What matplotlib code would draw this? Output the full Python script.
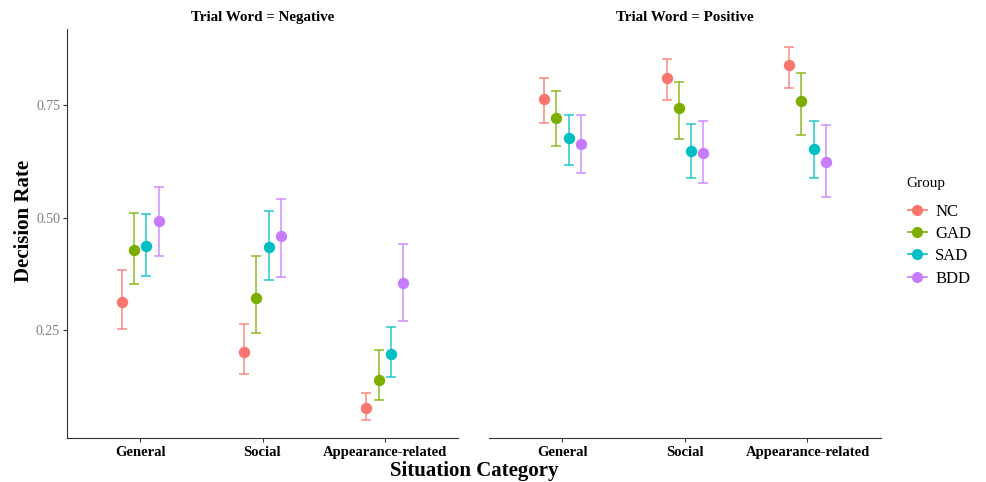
import numpy as np
import matplotlib
matplotlib.use("Agg")
from matplotlib import pyplot as plt
from matplotlib.lines import Line2D

# data
categories = ['General', 'Social', 'Appearance-related']
groups = ['NC', 'GAD', 'SAD', 'BDD']
colors = ['#F8766D', '#7CAE00', '#00BFC4', '#C77CFF']
panels = ['Negative', 'Positive']

# mean decision rate, rows = group, cols = category
neg_mean = [[0.314, 0.202, 0.077],
            [0.428, 0.321, 0.139],
            [0.437, 0.434, 0.197],
            [0.493, 0.460, 0.354]]
neg_low = [[0.252, 0.153, 0.052],
           [0.352, 0.244, 0.096],
           [0.370, 0.361, 0.146],
           [0.414, 0.369, 0.270]]
neg_high = [[0.383, 0.264, 0.111],
            [0.510, 0.416, 0.206],
            [0.509, 0.515, 0.257],
            [0.568, 0.542, 0.442]]

pos_mean = [[0.764, 0.811, 0.838],
            [0.722, 0.744, 0.760],
            [0.676, 0.649, 0.653],
            [0.663, 0.644, 0.623]]
pos_low = [[0.711, 0.761, 0.788],
           [0.659, 0.675, 0.684],
           [0.617, 0.589, 0.589],
           [0.600, 0.577, 0.545]]
pos_high = [[0.810, 0.852, 0.878],
            [0.781, 0.802, 0.822],
            [0.727, 0.709, 0.715],
            [0.729, 0.714, 0.705]]

plt.rcParams['font.family'] = ['Liberation Serif', 'DejaVu Serif']

fig = plt.figure(figsize=(9.87, 4.82), dpi=100)
ax1 = fig.add_axes([67/987, 1 - 438/482, 391/987, 409/482])
ax2 = fig.add_axes([489/987, 1 - 438/482, 392/987, 409/482], sharey=ax1)

offsets = [-0.15, -0.05, 0.05, 0.15]
x = np.arange(1, len(categories) + 1)

def draw_panel(ax, mean, low, high, title):
    for g in range(len(groups)):
        m = np.array(mean[g])
        lo = m - np.array(low[g])
        hi = np.array(high[g]) - m
        ax.errorbar(x + offsets[g], m, yerr=[lo, hi], fmt='none',
                    ecolor=colors[g], elinewidth=1.1, capsize=3.3,
                    capthick=1.1, alpha=0.85)
        ax.plot(x + offsets[g], m, 'o', color=colors[g], markersize=8.2,
                markeredgewidth=0, zorder=3)
    ax.set_xlim(0.4, 3.6)
    ax.set_xticks(x)
    ax.set_xticklabels(categories, fontsize=10.5, fontweight='bold')
    ax.tick_params(axis='x', length=3, color='#333333', pad=3)
    for s in ['top', 'right']:
        ax.spines[s].set_visible(False)
    ax.spines['bottom'].set_color('#333333')
    ax.spines['left'].set_color('#333333')
    ax.set_title('Trial Word = ' + title, fontsize=10.8, fontweight='bold', pad=6)

draw_panel(ax1, neg_mean, neg_low, neg_high, panels[0])
draw_panel(ax2, pos_mean, pos_low, pos_high, panels[1])

ax1.set_ylim(0.011, 0.919)
ax1.set_yticks([0.25, 0.50, 0.75])
ax1.set_yticklabels(['0.25', '0.50', '0.75'])
ax1.tick_params(axis='y', length=3, color='#333333', labelcolor='#808080',
                labelsize=10, pad=2)

ax2.spines['left'].set_visible(False)
ax2.tick_params(axis='y', left=False, labelleft=False)

fig.text(474/987, 1 - 471/482, 'Situation Category', ha='center', va='center',
         fontsize=15, fontweight='bold')
fig.text(24/987, 1 - 221/482, 'Decision Rate', ha='center', va='center',
         rotation=90, fontsize=15, fontweight='bold')

# legend: title drawn separately so the gap matches
fig.text(906/987, 1 - 184/482, 'Group', ha='left', va='center', fontsize=11)
handles = [Line2D([0], [0], color=c, marker='o', markersize=8, lw=1.2,
                  markeredgewidth=0) for c in colors]
fig.legend(handles, groups, loc='upper left',
           bbox_to_anchor=(896/987, 1 - 192/482), frameon=False,
           fontsize=12, handlelength=1.15, borderpad=0.2,
           handletextpad=0.5, labelspacing=0.38)

fig.savefig('out.png', dpi=100)
